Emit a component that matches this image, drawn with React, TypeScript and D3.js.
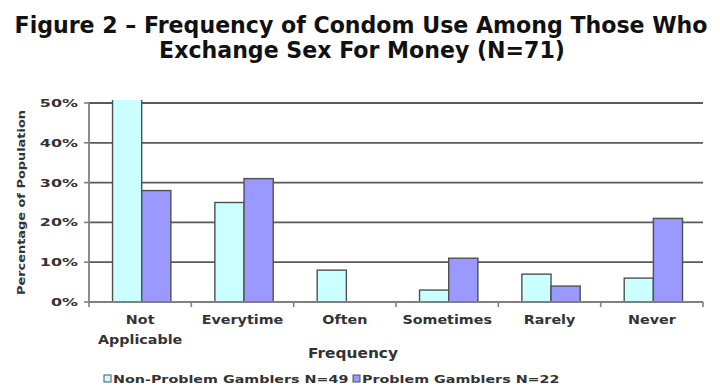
import React from "react";
import * as d3 from "d3";

const categories = ["Not Applicable", "Everytime", "Often", "Sometimes", "Rarely", "Never"];
const categoryLines = [["Not", "Applicable"], ["Everytime"], ["Often"], ["Sometimes"], ["Rarely"], ["Never"]];
const nonProblem = [55, 25, 8, 3, 7, 6];
const problem = [28, 31, 0, 11, 4, 21];
const seriesNames = ["Non-Problem Gamblers N=49", "Problem Gamblers N=22"];
const yTicks = [0, 10, 20, 30, 40, 50];
const colors = ["#CCFFFF", "#9999FF"];

function SText(props: { x: number; y: number; sx: number; sy?: number; size: number; anchor?: string; rotate?: number; children: React.ReactNode; fill?: string }) {
  const { x, y, sx, sy = 1, size, anchor = "start", rotate = 0, children, fill = "#333" } = props;
  return (
    <text transform={`translate(${x},${y}) rotate(${rotate}) scale(${sx},${sy})`} textAnchor={anchor} fontSize={size} fontWeight="bold" fill={fill}>
      {children}
    </text>
  );
}

export default function App() {
  const W = 720, H = 387;
  const left = 89, right = 703, top = 103, bottom = 302;
  const x = d3.scaleBand<string>().domain(categories).range([left, right]).paddingInner(0).paddingOuter(0);
  const y = d3.scaleLinear().domain([0, 50]).range([bottom, top]);
  const bw = x.bandwidth();
  const inner = d3.scaleBand<number>().domain([0, 1]).range([bw * 0.23, bw * 0.8]).padding(0);
  const font = "'DejaVu Sans', Verdana, sans-serif";
  const series = [nonProblem, problem];
  return (
    <svg width={W} height={H} style={{ position: "absolute", left: 0, top: 0, background: "#fff" }} fontFamily={font}>
      <defs>
        <clipPath id="plotclip"><rect x={left} y={top - 3} width={right - left} height={bottom - top + 5} /></clipPath>
      </defs>
      <SText x={361} y={33} sx={1} sy={1.05} size={22.1} anchor="middle" fill="#111">Figure 2 – Frequency of Condom Use Among Those Who</SText>
      <SText x={362} y={58} sx={1} sy={1.05} size={22.1} anchor="middle" fill="#111">Exchange Sex For Money (N=71)</SText>
      {yTicks.filter(t => t > 0).map(t => (
        <line key={"g" + t} x1={left} x2={right} y1={y(t)} y2={y(t)} stroke="#5a5a5a" strokeWidth={1.8} />
      ))}
      <g clipPath="url(#plotclip)">
        {series.map((s, si) => categories.map((c, ci) => s[ci] > 0 ? (
          <rect key={si + "-" + ci} x={(x(c) as number) + (inner(si) as number)} y={y(s[ci])} width={inner.bandwidth()} height={y(0) - y(s[ci])} fill={colors[si]} stroke="#505050" strokeWidth={1.4} />
        ) : null))}
      </g>
      <line x1={left} x2={left} y1={top} y2={bottom} stroke="#808080" strokeWidth={1.8} />
      <line x1={left} x2={right} y1={bottom} y2={bottom} stroke="#808080" strokeWidth={1.8} />
      {yTicks.map(t => (
        <g key={"t" + t}>
          <line x1={left - 5} x2={left} y1={y(t)} y2={y(t)} stroke="#808080" strokeWidth={1.6} />
          <SText x={left - 11} y={y(t) + 4} sx={1.45} size={11} anchor="end">{t + "%"}</SText>
        </g>
      ))}
      {categories.map((c, i) => (
        <line key={"xt" + i} x1={x(c) as number} x2={x(c) as number} y1={bottom} y2={bottom + 5} stroke="#808080" strokeWidth={1.6} />
      ))}
      <line x1={right} x2={right} y1={bottom} y2={bottom + 5} stroke="#808080" strokeWidth={1.6} />
      {categories.map((c, i) => categoryLines[i].map((l, li) => (
        <SText key={"xl" + i + "-" + li} x={(x(c) as number) + bw / 2} y={324 + li * 20} sx={1.1} size={13} anchor="middle">{l}</SText>
      )))}
      <SText x={353} y={358} sx={1.14} size={13.5} anchor="middle">Frequency</SText>
      <SText x={25} y={(top + bottom) / 2} sx={1.23} size={10.5} anchor="middle" rotate={-90}>Percentage of Population</SText>
      <rect x={104} y={375} width={7} height={7} fill={colors[0]} stroke="#505050" strokeWidth={1} />
      <SText x={113} y={383} sx={1.3} size={11}>{seriesNames[0]}</SText>
      <rect x={353} y={375} width={7} height={7} fill={colors[1]} stroke="#505050" strokeWidth={1} />
      <SText x={362} y={383} sx={1.3} size={11}>{seriesNames[1]}</SText>
    </svg>
  );
}
